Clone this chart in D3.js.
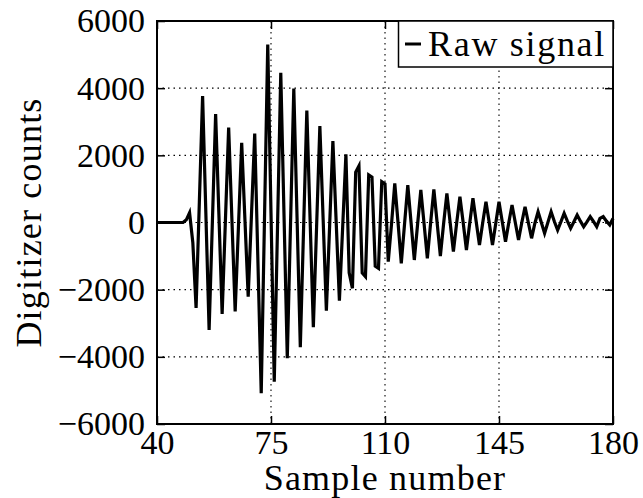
<!DOCTYPE html>
<html><head><meta charset="utf-8">
<script src="https://cdn.jsdelivr.net/npm/d3@7"></script>
<style>body{margin:0;background:#fff} svg{display:block}</style>
</head><body>
<svg id="chart" width="643" height="498"></svg>
<script>
// ---- data ----
const xStart = 40;   // first sample number
const signal = [
  0, 0, 0, 0, 0, 0, 0, 0, 0, 80,                 // 40-49
  290, -600, -2545, 600, 3765, 280, -3200, 0, 3230, 250,          // 50-59
  -2720, 50, 2830, 90, -2650, -140, 2375, 80, -2210, 220,         // 60-69
  2650, -1220, -5085, 100, 5300, 280, -4740, -140, 4460, 210,     // 70-79
  -4040, -25, 3990, 140, -3715, -190, 3330, 100, -3120, -120,     // 80-89
  2870, 120, -2625, -100, 2425, 50, -2330, -150, 2030, -1500,     // 90-99
  -1960, 1500, 1685, -1500, -1610, 1414, 1350, -1300, -1365, 1215, // 100-109
  1150, -1165, -50, 1165, 0, -1215, -50, 1116, 0, -1116,          // 110-119
  -60, 967, -40, -1065, -20, 988, 0, -997, -30, 869,              // 120-129
  0, -869, -20, 768, 0, -818, -30, 720, 20, -670,                 // 130-139
  -10, 620, 0, -670, -30, 620, 20, -570, -10, 520,                // 140-149
  0, -520, 0, 470, 0, -470, -30, 320, 0, -320,                    // 150-159
  0, 320, 30, -223, 20, 274, 40, -173, 20, 223,                   // 160-169
  40, -125, 20, 173, 30, -125, 120, 173, 40, -74,                 // 170-179
  120                                                             // 180
];
const xTicks = [40, 75, 110, 145, 180];
const yTicks = [-6000, -4000, -2000, 0, 2000, 4000, 6000];
const xDomain = [40, 180];
const yDomain = [-6000, 6000];
const seriesName = "Raw signal";
const xLabel = "Sample number";
const yLabel = "Digitizer counts";

// ---- layout ----
const L = 157, R = 613, T = 21, B = 424;
const font = "Liberation Serif, Times New Roman, serif";
const svg = d3.select("#chart");
const x = d3.scaleLinear().domain(xDomain).range([L, R]);
const y = d3.scaleLinear().domain(yDomain).range([B, T]);

// grid
const grid = svg.append("g").attr("stroke", "#000").attr("stroke-width", 1.1)
  .attr("stroke-dasharray", "1.5,4");
grid.selectAll(".gx").data(xTicks.filter(d => d > xDomain[0] && d < xDomain[1]))
  .join("line").attr("x1", d => x(d)).attr("x2", d => x(d)).attr("y1", T).attr("y2", B);
grid.selectAll(".gy").data(yTicks.filter(d => d > yDomain[0] && d < yDomain[1]))
  .join("line").attr("y1", d => y(d)).attr("y2", d => y(d)).attr("x1", L).attr("x2", R);

// signal
const pts = signal.map((v, i) => [xStart + i, v]);
svg.append("path").datum(pts)
  .attr("fill", "none").attr("stroke", "#000").attr("stroke-width", 3.2)
  .attr("stroke-linejoin", "miter").attr("stroke-miterlimit", 4)
  .attr("d", d3.line().x(d => x(d[0])).y(d => y(d[1])));

// axes
const fmt = d3.format("d");
const ax = svg.append("g").attr("transform", `translate(0,${B})`)
  .call(d3.axisBottom(x).tickValues(xTicks).tickFormat(fmt).tickSizeInner(-8).tickSizeOuter(0).tickPadding(6));
const axTop = svg.append("g").attr("transform", `translate(0,${T})`)
  .call(d3.axisTop(x).tickValues(xTicks).tickFormat("").tickSizeInner(-8).tickSizeOuter(0));
const ay = svg.append("g").attr("transform", `translate(${L},0)`)
  .call(d3.axisLeft(y).tickValues(yTicks).tickFormat(fmt).tickSizeInner(-8).tickSizeOuter(0).tickPadding(12));
const ayR = svg.append("g").attr("transform", `translate(${R},0)`)
  .call(d3.axisRight(y).tickValues(yTicks).tickFormat("").tickSizeInner(-8).tickSizeOuter(0));
[ax, axTop, ay, ayR].forEach(g => {
  g.attr("font-family", null).attr("font-size", null);
  g.select(".domain").remove();
  g.selectAll(".tick line").attr("stroke", "#000").attr("stroke-width", 1.5);
  g.selectAll("text").style("font-family", font).style("font-size", "34px").attr("fill", "#000");
});

// frame
svg.append("rect").attr("x", L).attr("y", T).attr("width", R - L).attr("height", B - T)
  .attr("fill", "none").attr("stroke", "#000").attr("stroke-width", 2);

// labels
svg.append("text").attr("x", (L + R) / 2).attr("y", 490).attr("text-anchor", "middle")
  .style("font-family", font).style("font-size", "36px").attr("letter-spacing", 1.2).text(xLabel);
svg.append("text").attr("transform", `translate(41,${(T + B) / 2}) rotate(-90)`)
  .attr("text-anchor", "middle").style("font-family", font).style("font-size", "36px")
  .attr("letter-spacing", 1.2).text(yLabel);

// legend
const lg = svg.append("g");
lg.append("rect").attr("x", 398.5).attr("y", T).attr("width", R - 398.5).attr("height", 46)
  .attr("fill", "#fff").attr("stroke", "#000").attr("stroke-width", 1.5);
lg.append("line").attr("x1", 405).attr("x2", 421).attr("y1", 44).attr("y2", 44)
  .attr("stroke", "#000").attr("stroke-width", 3);
lg.append("text").attr("x", 428).attr("y", 56).style("font-family", font).style("font-size", "36px")
  .attr("letter-spacing", 1.7).text(seriesName);
</script>
</body></html>
